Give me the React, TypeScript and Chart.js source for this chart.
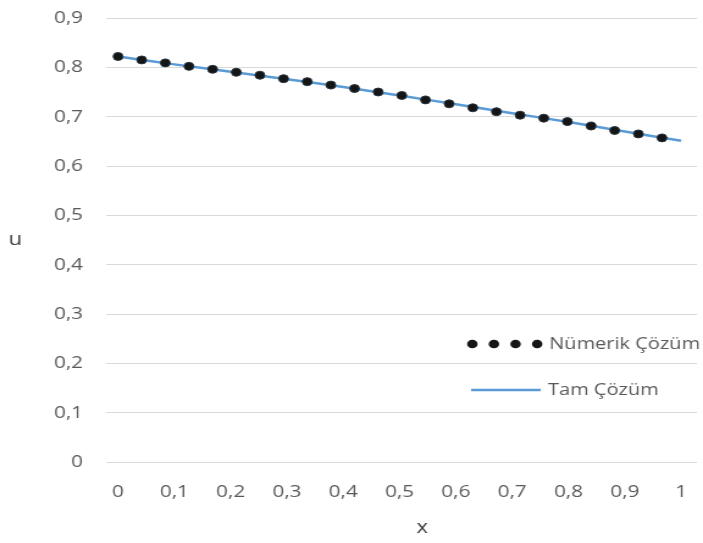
import React, { useEffect, useRef } from "react";
import { Chart, registerables } from "chart.js";

Chart.register(...registerables);

// Numerical solution (dots)
const numX = [0, 0.042, 0.084, 0.126, 0.168, 0.21, 0.252, 0.294, 0.336, 0.378, 0.42, 0.462, 0.504, 0.546, 0.588, 0.63, 0.672, 0.714, 0.756, 0.798, 0.84, 0.882, 0.924, 0.966];
const numY = [0.822, 0.815, 0.809, 0.802, 0.796, 0.79, 0.784, 0.777, 0.771, 0.764, 0.757, 0.75, 0.743, 0.734, 0.726, 0.718, 0.71, 0.703, 0.697, 0.69, 0.681, 0.672, 0.665, 0.657];

// Exact solution (line)
const exactX = [0, 0.1, 0.2, 0.3, 0.4, 0.5, 0.6, 0.7, 0.8, 0.9, 1];
const exactY = [0.822, 0.806, 0.791, 0.776, 0.76, 0.743, 0.725, 0.707, 0.689, 0.67, 0.651];

const xTicks = [0, 0.1, 0.2, 0.3, 0.4, 0.5, 0.6, 0.7, 0.8, 0.9, 1];
const seriesLabels = ["Nümerik Çözüm", "Tam Çözüm"];
const axisTitles = { x: "x", y: "u" };

// The reference picture is horizontally stretched; draw narrower and stretch.
const W = 576;
const H = 543;
const SX = 703 / W;

const FONT = "'Open Sans', sans-serif";
const TEXT = "#595959";
const DOT = "#151515";
const LINE = "#5b9bd5";

const fmt = (v: number) => String(Math.round(v * 10) / 10).replace(".", ",");

const overlayPlugin = {
  id: "overlay",
  afterDraw(chart: any) {
    const ctx = chart.ctx as CanvasRenderingContext2D;
    const ds = chart.data.datasets;
    const a = chart.chartArea;
    ctx.save();
    // axis titles
    ctx.fillStyle = "#404040";
    ctx.font = `18px ${FONT}`;
    ctx.textAlign = "center";
    ctx.textBaseline = "middle";
    ctx.fillText(axisTitles.y, 12.5, (a.top + a.bottom) / 2);
    ctx.fillText(axisTitles.x, 346, 528);
    // legend
    ctx.font = `16.4px ${FONT}`;
    ctx.textAlign = "left";
    const y1 = 344;
    ctx.fillStyle = DOT;
    for (let i = 0; i < 4; i++) {
      ctx.beginPath();
      ctx.arc(387 + i * 17.7, y1, 4.3, 0, Math.PI * 2);
      ctx.fill();
    }
    ctx.fillStyle = TEXT;
    ctx.fillText(ds[0].label, 450, y1);
    const y2 = 390;
    ctx.strokeStyle = LINE;
    ctx.lineWidth = 2.5;
    ctx.beginPath();
    ctx.moveTo(386, y2);
    ctx.lineTo(443, y2);
    ctx.stroke();
    ctx.fillText(ds[1].label, 449, y2);
    ctx.restore();
  },
};

export default function App() {
  const ref = useRef<HTMLCanvasElement>(null);
  useEffect(() => {
    if (!ref.current) return;
    const chart = new Chart(ref.current, {
      type: "scatter",
      data: {
        datasets: [
          {
            label: seriesLabels[0],
            data: numX.map((x, i) => ({ x, y: numY[i] })),
            showLine: false,
            pointRadius: 4,
            pointBackgroundColor: DOT,
            pointBorderColor: "#26323e",
            pointBorderWidth: 1,
          },
          {
            label: seriesLabels[1],
            data: exactX.map((x, i) => ({ x, y: exactY[i] })),
            showLine: true,
            borderColor: LINE,
            borderWidth: 2.5,
            pointRadius: 0,
            tension: 0.3,
          },
        ],
      },
      options: {
        responsive: false,
        animation: false,
        layout: { padding: { top: 18, right: 3, left: 0, bottom: 0 } },
        plugins: { legend: { display: false }, tooltip: { enabled: false } },
        scales: {
          x: {
            type: "linear",
            min: -0.021,
            max: 1.028,
            afterBuildTicks: (scale: any) => {
              scale.ticks = xTicks.map((v) => ({ value: v }));
            },
            afterFit: (scale: any) => {
              scale.height = 81;
              scale.paddingLeft = 0;
              scale.paddingRight = 0;
            },
            grid: { display: false, drawTicks: false },
            border: { display: false },
            ticks: {
              color: TEXT,
              font: { family: FONT, size: 17 },
              padding: 20,
              maxRotation: 0,
              autoSkip: false,
              callback: (v: any) => fmt(Number(v)),
            },
          },
          y: {
            min: 0,
            max: 0.9,
            afterFit: (scale: any) => {
              scale.width = 87;
              scale.paddingTop = 0;
              scale.paddingBottom = 0;
            },
            grid: { color: "#d9d9d9", lineWidth: 1, drawTicks: false },
            border: { display: false },
            ticks: {
              stepSize: 0.1,
              color: TEXT,
              font: { family: FONT, size: 17 },
              padding: 19,
              callback: (v: any) => fmt(Number(v)),
            },
          },
        },
      },
      plugins: [overlayPlugin],
    });
    return () => chart.destroy();
  }, []);
  return (
    <div style={{ position: "fixed", left: 0, top: 0, width: 703, height: 543, background: "#fff", overflow: "hidden" }}>
      <div style={{ width: W, height: H, transform: `scaleX(${SX})`, transformOrigin: "0 0" }}>
        <canvas ref={ref} width={W} height={H} style={{ display: "block" }} />
      </div>
    </div>
  );
}
